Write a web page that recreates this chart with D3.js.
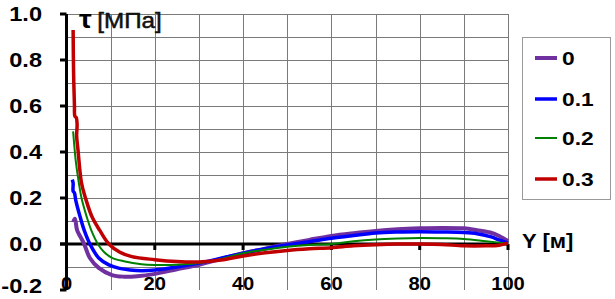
<!DOCTYPE html>
<html>
<head>
<meta charset="utf-8">
<script src="https://cdn.jsdelivr.net/npm/d3@7"></script>
<style>
  body { margin: 0; background: #fff; }
  svg { display: block; font-family: "Liberation Sans", Arial, sans-serif; }
</style>
</head>
<body>
<div id="chart"></div>
<script>
const seriesNames = ["0", "0.1", "0.2", "0.3"];
const seriesColors = ["#7030a0", "#0000ff", "#008000", "#c00000"];
const lineWidths = [4, 3.5, 2, 3.5];
const yTicks = [-0.2, 0.0, 0.2, 0.4, 0.6, 0.8, 1.0];
const xTicks = [0, 20, 40, 60, 80, 100];

// [Y, tau]
const s0 = [[1.5, 0.095], [1.9, 0.11], [2.4, 0.06], [3.2, 0.03], [4.0, 0], [5.3, -0.061],
  [7.3, -0.104], [10.3, -0.135], [13, -0.142], [16, -0.14], [20, -0.13], [25, -0.11],
  [30, -0.09], [35, -0.065], [40, -0.04], [45, -0.02], [50, 0.0], [55, 0.018], [60, 0.035],
  [65, 0.047], [70, 0.057], [75, 0.064], [80, 0.068], [85, 0.07], [90, 0.068], [93, 0.06],
  [96, 0.05], [98, 0.035], [100, 0.013]];
const s1 = [[1.3, 0.28], [1.5, 0.265], [1.5, 0.23], [1.8, 0.222], [2.1, 0.19], [3.1, 0.117],
  [4.0, 0.06], [5.3, 0], [7.3, -0.061], [9.6, -0.091], [12, -0.106], [14.4, -0.113],
  [17, -0.116], [20, -0.113], [25, -0.1], [30, -0.083], [35, -0.062], [40, -0.04],
  [45, -0.02], [50, -0.004], [55, 0.01], [60, 0.025], [65, 0.037], [70, 0.048], [75, 0.052],
  [80, 0.053], [85, 0.052], [90, 0.05], [93, 0.045], [96, 0.032], [98, 0.018], [100, 0.004]];
const s2 = [[1.5, 0.49], [1.8, 0.42], [2.1, 0.36], [2.8, 0.265], [3.4, 0.2], [4.6, 0.117],
  [5.6, 0.06], [7.1, 0], [8.5, -0.035], [10.3, -0.06], [13, -0.075], [17, -0.088],
  [20, -0.091], [25, -0.09], [30, -0.083], [35, -0.065], [40, -0.04], [45, -0.025],
  [50, -0.012], [55, -0.004], [60, 0.0], [65, 0.012], [70, 0.02], [75, 0.024], [80, 0.026],
  [85, 0.025], [90, 0.022], [95, 0.012], [98, 0.006], [100, 0.002]];
const s3 = [[1.5, 0.93], [1.6, 0.75], [1.8, 0.6], [1.9, 0.555], [2.2, 0.55], [2.4, 0.52],
  [2.3, 0.47], [2.6, 0.41], [3.4, 0.265], [4.3, 0.2], [5.8, 0.117], [7.5, 0.06], [9.6, 0],
  [12, -0.035], [14.8, -0.055], [20, -0.068], [25, -0.076], [30, -0.078], [35, -0.07],
  [40, -0.052], [45, -0.038], [50, -0.028], [55, -0.021], [60, -0.016], [65, -0.008],
  [70, -0.003], [75, 0], [80, 0], [85, -0.002], [90, -0.008], [95, -0.008], [98, -0.005],
  [100, 0.004]];
const allSeries = [s0, s1, s2, s3];

const w = 615, h = 299;
const x = d3.scaleLinear().domain([0, 100]).range([66.5, 508]);
const y = d3.scaleLinear().domain([-0.2, 1.0]).range([290, 14]);

const svg = d3.select("#chart").append("svg").attr("width", w).attr("height", h);

// grid
svg.append("g").selectAll("line").data(d3.range(10, 101, 10)).enter().append("line")
  .attr("x1", (d) => Math.round(x(d)) + 0.5).attr("x2", (d) => Math.round(x(d)) + 0.5)
  .attr("y1", y(1.0)).attr("y2", y(-0.2))
  .attr("stroke", "#7a7a7a").attr("stroke-width", 1);
svg.append("g").selectAll("line").data(d3.range(-1, 11).map((d) => d / 10)).enter().append("line")
  .attr("x1", x(0)).attr("x2", x(100))
  .attr("y1", (d) => Math.round(y(d)) + 0.5).attr("y2", (d) => Math.round(y(d)) + 0.5)
  .attr("stroke", "#7a7a7a").attr("stroke-width", 1);

// tick labels
svg.append("g").selectAll("text").data(yTicks).enter().append("text")
  .attr("transform", (d) => `translate(42,${Math.min(y(d) + 7, 293)}) scale(1.18,1)`)
  .attr("text-anchor", "end").attr("font-size", 20).attr("font-weight", "bold")
  .text((d) => d.toFixed(1));
svg.append("g").selectAll("text").data(xTicks).enter().append("text")
  .attr("transform", (d) => `translate(${x(d)},290) scale(1.12,1)`)
  .attr("text-anchor", "middle").attr("font-size", 18).attr("font-weight", "bold")
  .text((d) => d);

// axes
svg.append("line").attr("x1", x(0)).attr("x2", x(0)).attr("y1", y(1.0)).attr("y2", y(-0.2))
  .attr("stroke", "#000").attr("stroke-width", 3);
svg.append("g").selectAll("line").data(yTicks).enter().append("line")
  .attr("x1", 60).attr("x2", x(0)).attr("y1", (d) => y(d)).attr("y2", (d) => y(d))
  .attr("stroke", "#000").attr("stroke-width", 3);
svg.append("line").attr("x1", 60).attr("x2", x(100)).attr("y1", y(0)).attr("y2", y(0))
  .attr("stroke", "#000").attr("stroke-width", 3);
svg.append("g").selectAll("line").data(xTicks.slice(1)).enter().append("line")
  .attr("x1", (d) => x(d)).attr("x2", (d) => x(d)).attr("y1", y(0)).attr("y2", y(0) + 6)
  .attr("stroke", "#000").attr("stroke-width", 3);

// curves
const line = d3.line().x((d) => x(d[0])).y((d) => y(d[1])).curve(d3.curveCatmullRom.alpha(0.5));
svg.append("g").selectAll("path").data(allSeries).enter().append("path")
  .attr("d", line).attr("fill", "none")
  .attr("stroke", (d, i) => seriesColors[i]).attr("stroke-width", (d, i) => lineWidths[i])
  .attr("stroke-linejoin", "round");

// axis titles
const t = svg.append("text").attr("transform", "translate(79,28) scale(1.1,1)").attr("font-size", 22);
t.append("tspan").attr("font-weight", "bold").attr("font-size", 26).text("τ");
t.append("tspan").attr("dx", 5).attr("fill", "#111").attr("stroke", "#111")
  .attr("stroke-width", 0.5).text("[МПа]");
svg.append("text").attr("transform", "translate(522,248) scale(1.1,1)")
  .attr("font-size", 20).attr("font-weight", "bold").text("Y [м]");

// legend
const legend = svg.append("g");
legend.append("rect").attr("x", 522.5).attr("y", 37.5).attr("width", 88).attr("height", 162)
  .attr("fill", "#fff").attr("stroke", "#999");
const ly = [58, 99, 138, 179];
const items = legend.selectAll("g").data(seriesNames).enter().append("g");
items.append("line").attr("x1", 535).attr("x2", 557)
  .attr("y1", (d, i) => ly[i]).attr("y2", (d, i) => ly[i])
  .attr("stroke", (d, i) => seriesColors[i]).attr("stroke-width", (d, i) => lineWidths[i]);
items.append("text").attr("transform", (d, i) => `translate(562,${ly[i] + 7}) scale(1.2,1)`)
  .attr("font-size", 19).attr("font-weight", "bold").text((d) => d);
</script>
</body>
</html>
